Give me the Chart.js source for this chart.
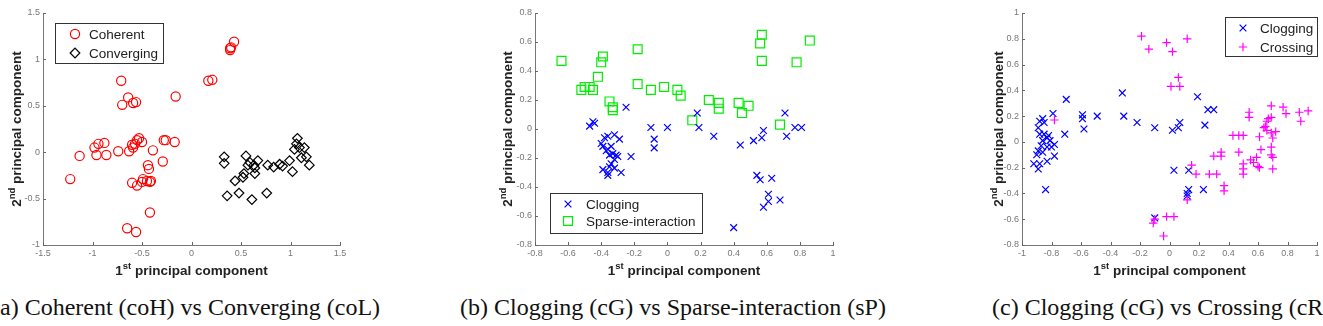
<!DOCTYPE html>
<html>
<head>
<meta charset="utf-8">
<script src="https://cdn.jsdelivr.net/npm/chart.js@4.4.1/dist/chart.umd.min.js"></script>
<style>
  body { margin: 0; background: #fff; width: 1323px; height: 326px; overflow: hidden; position: relative; }
  canvas { position: absolute; top: 0; }
  .cap { position: absolute; top: 294px; font-family: 'Liberation Serif', 'Times New Roman', serif; font-size: 24px; line-height: 27px; color: #111; white-space: nowrap; }
</style>
</head>
<body>
<canvas id="c1" width="360" height="290" style="left:0"></canvas>
<canvas id="c2" width="380" height="290" style="left:480px"></canvas>
<canvas id="c3" width="353" height="290" style="left:970px"></canvas>
<div class="cap" style="left:-8px">(a) Coherent (coH) vs Converging (coL)</div>
<div class="cap" style="left:460px">(b) Clogging (cG) vs Sparse-interaction (sP)</div>
<div class="cap" style="left:992px">(c) Clogging (cG) vs Crossing (cR)</div>
<script>
// --- data: [1st PC, 2nd PC] ---
const coherentPts = [
  [-1.225, -0.29], [-1.13, -0.04], [-0.98, 0.05], [-0.94, 0.09], [-0.96, -0.03], [-0.88, 0.10],
  [-0.86, -0.03], [-0.74, 0.01], [-0.71, 0.77], [-0.70, 0.51], [-0.64, 0.59], [-0.63, 0.01],
  [-0.65, -0.82], [-0.56, -0.86], [-0.59, 0.53], [-0.56, 0.54], [-0.60, 0.08], [-0.59, 0.05],
  [-0.55, 0.13], [-0.53, 0.15], [-0.50, 0.11], [-0.57, 0.09], [-0.60, -0.33], [-0.55, -0.36],
  [-0.50, -0.32], [-0.45, -0.31], [-0.42, -0.32], [-0.49, -0.29], [-0.41, -0.31], [-0.44, -0.14],
  [-0.43, -0.18], [-0.42, -0.65], [-0.39, 0.02], [-0.29, -0.10], [-0.28, 0.13], [-0.26, 0.13],
  [-0.17, 0.11], [-0.16, 0.60], [0.17, 0.77], [0.21, 0.78], [0.39, 1.12], [0.40, 1.13],
  [0.43, 1.19], [0.39, 1.10]
];
const convergingPts = [
  [0.33, -0.05], [0.33, -0.12], [0.36, -0.47], [0.44, -0.31], [0.48, -0.44], [0.52, -0.27],
  [0.53, -0.23], [0.55, -0.04], [0.57, -0.14], [0.59, -0.11], [0.61, -0.51], [0.63, -0.14],
  [0.64, -0.23], [0.64, -0.17], [0.67, -0.09], [0.76, -0.44], [0.77, -0.14], [0.83, -0.16],
  [0.89, -0.13], [0.92, -0.15], [0.99, -0.09], [1.02, -0.21], [1.04, 0.03], [1.07, 0.15],
  [1.09, 0.05], [1.11, -0.06], [1.14, 0.05], [1.16, -0.05], [1.19, -0.14], [1.06, 0.09]
];
const cloggingPtsB = [
  [-0.47, 0.02], [-0.45, 0.05], [-0.44, 0.04], [-0.25, 0.15], [-0.10, 0.01], [-0.08, -0.07],
  [-0.08, -0.13], [0.00, 0.01], [-0.22, -0.19], [-0.40, -0.10], [-0.38, -0.06], [-0.36, -0.05],
  [-0.39, -0.12], [-0.36, -0.14], [-0.35, -0.18], [-0.34, -0.12], [-0.32, -0.04], [-0.29, -0.07],
  [-0.33, -0.17], [-0.31, -0.18], [-0.30, -0.19], [-0.32, -0.21], [-0.34, -0.24], [-0.35, -0.26],
  [-0.39, -0.28], [-0.36, -0.30], [-0.36, -0.32], [-0.28, -0.30], [-0.32, -0.27], [-0.37, -0.15],
  [0.18, 0.11], [0.19, 0.01], [0.28, -0.05], [0.44, -0.11], [0.52, -0.08], [0.57, -0.06],
  [0.58, -0.01], [0.54, -0.32], [0.56, -0.35], [0.63, -0.34], [0.61, -0.45], [0.61, -0.50],
  [0.58, -0.54], [0.68, -0.49], [0.40, -0.68], [0.71, 0.11], [0.72, -0.05], [0.77, 0.01],
  [0.81, 0.01]
];
const sparsePts = [
  [-0.64, 0.47], [-0.52, 0.27], [-0.50, 0.29], [-0.47, 0.29], [-0.45, 0.27], [-0.42, 0.36],
  [-0.40, 0.46], [-0.39, 0.50], [-0.35, 0.19], [-0.33, 0.15], [-0.33, 0.13], [-0.18, 0.55],
  [-0.18, 0.31], [-0.10, 0.27], [-0.02, 0.29], [0.06, 0.27], [0.08, 0.23], [0.15, 0.06],
  [0.25, 0.20], [0.31, 0.18], [0.31, 0.14], [0.43, 0.18], [0.45, 0.11], [0.49, 0.16],
  [0.56, 0.59], [0.57, 0.65], [0.57, 0.47], [0.68, 0.03], [0.78, 0.46], [0.86, 0.61]
];
const cloggingPtsC = [
  [-0.92, -0.17], [-0.89, -0.21], [-0.88, -0.17], [-0.90, -0.10], [-0.89, -0.07], [-0.87, -0.03],
  [-0.86, 0.01], [-0.88, 0.06], [-0.89, 0.11], [-0.88, 0.16], [-0.86, 0.18], [-0.85, 0.15],
  [-0.85, 0.06], [-0.83, 0.03], [-0.82, 0.05], [-0.81, 0.01], [-0.80, -0.04], [-0.78, -0.02],
  [-0.78, -0.11], [-0.83, -0.15], [-0.84, -0.37], [-0.79, 0.22], [-0.83, -0.04], [-0.86, -0.08],
  [-0.70, 0.33], [-0.71, 0.06], [-0.59, 0.21], [-0.59, 0.18], [-0.58, 0.10], [-0.49, 0.20],
  [-0.32, 0.38], [-0.31, 0.20], [-0.22, 0.15], [-0.10, 0.11], [0.02, 0.09], [0.06, 0.11],
  [0.07, 0.15], [0.19, 0.35], [0.24, 0.13], [0.26, 0.25], [0.30, 0.25], [0.03, -0.22],
  [0.13, -0.22], [0.13, -0.37], [0.12, -0.40], [0.12, -0.42], [0.23, -0.37], [-0.10, -0.59]
];
const crossingPts = [
  [-0.19, 0.82], [-0.14, 0.72], [-0.02, 0.77], [0.02, 0.70], [0.12, 0.80], [0.06, 0.50],
  [0.01, 0.43], [0.07, 0.43], [-0.78, 0.17], [-0.11, -0.63], [-0.10, -0.60], [-0.04, -0.73],
  [-0.02, -0.58], [0.03, -0.58], [0.12, -0.45], [0.15, -0.18], [0.18, -0.25], [0.27, -0.25],
  [0.32, -0.25], [0.30, -0.11], [0.35, -0.08], [0.35, -0.11], [0.37, -0.34], [0.37, -0.38],
  [0.43, 0.05], [0.47, 0.05], [0.50, 0.05], [0.47, -0.08], [0.50, -0.17], [0.50, -0.21],
  [0.50, -0.25], [0.54, 0.23], [0.54, 0.19], [0.55, -0.14], [0.57, -0.16], [0.59, -0.12],
  [0.60, -0.19], [0.61, -0.20], [0.61, 0.04], [0.62, -0.06], [0.65, 0.12], [0.66, 0.16],
  [0.67, 0.18], [0.69, 0.19], [0.69, 0.28], [0.69, 0.07], [0.70, 0.03], [0.69, -0.04],
  [0.69, -0.10], [0.70, -0.12], [0.70, -0.21], [0.72, 0.08], [0.77, 0.27], [0.79, 0.22],
  [0.88, 0.23], [0.89, 0.16], [0.94, 0.24], [0.66, 0.09], [0.64, 0.11]
];

const FONT = '"Liberation Sans", Arial, sans-serif';
const toXY = pts => pts.map(p => ({ x: p[0], y: p[1] }));
const fmt = v => String(Math.round(v * 10) / 10);

function drawSup(ctx, a, s, b, cx, base) {
  const big = 'bold 13.5px ' + FONT, small = 'bold 9.5px ' + FONT;
  ctx.font = big;
  const wa = ctx.measureText(a).width, wb = ctx.measureText(b).width;
  ctx.font = small;
  const ws = ctx.measureText(s).width;
  const x0 = cx - (wa + ws + wb) / 2;
  ctx.textAlign = 'left';
  ctx.textBaseline = 'alphabetic';
  ctx.font = big; ctx.fillText(a, x0, base);
  ctx.font = small; ctx.fillText(s, x0 + wa, base - 6);
  ctx.font = big; ctx.fillText(b, x0 + wa + ws, base);
}

// inward tick marks + axis titles with superscripts
const axisDecor = {
  id: 'axisDecor',
  afterDraw(chart, args, opts) {
    const { ctx, chartArea: a } = chart;
    const x = chart.scales.x, y = chart.scales.y;
    ctx.save();
    ctx.strokeStyle = '#666';
    ctx.lineWidth = 1;
    ctx.beginPath();
    x.ticks.forEach(t => {
      const px = Math.round(x.getPixelForValue(t.value)) + 0.5;
      ctx.moveTo(px, a.bottom); ctx.lineTo(px, a.bottom - 3);
    });
    y.ticks.forEach(t => {
      const py = Math.round(y.getPixelForValue(t.value)) + 0.5;
      ctx.moveTo(a.left, py); ctx.lineTo(a.left + 3, py);
    });
    ctx.stroke();
    ctx.fillStyle = '#222';
    drawSup(ctx, '1', 'st', ' principal component', (a.left + a.right) / 2, a.bottom + 30);
    ctx.translate(a.left - opts.yTitleGap, (a.top + a.bottom) / 2);
    ctx.rotate(-Math.PI / 2);
    drawSup(ctx, '2', 'nd', ' principal component', 0, 0);
    ctx.restore();
  }
};

// boxed legend inside the plot area
const boxLegend = {
  id: 'boxLegend',
  afterDraw(chart, args, o) {
    const ctx = chart.ctx;
    ctx.save();
    ctx.fillStyle = '#fff';
    ctx.fillRect(o.x, o.y, o.w, o.h);
    ctx.strokeStyle = '#333';
    ctx.lineWidth = 1;
    ctx.strokeRect(o.x + 0.5, o.y + 0.5, o.w, o.h);
    chart.data.datasets.forEach((ds, i) => {
      const cy = o.y + o.rows[i];
      ctx.strokeStyle = ds.borderColor;
      ctx.fillStyle = 'rgba(0,0,0,0)';
      ctx.lineWidth = ds.borderWidth;
      Chart.helpers.drawPoint(ctx, { pointStyle: ds.pointStyle, radius: ds.pointRadius, borderWidth: ds.borderWidth, rotation: 0 }, o.markerX, cy);
      ctx.fillStyle = '#222';
      ctx.font = '13.5px ' + FONT;
      ctx.textAlign = 'left';
      ctx.textBaseline = 'middle';
      ctx.fillText(ds.label, o.textX, cy + 1);
    });
    ctx.restore();
  }
};

function series(label, pts, color, style, radius, order) {
  return {
    label, data: toXY(pts), borderColor: color, backgroundColor: 'rgba(0,0,0,0)',
    pointStyle: style, pointRadius: radius, pointHoverRadius: radius, borderWidth: 1.2, order
  };
}

function axis(min, max, step, fit) {
  return {
    type: 'linear', min, max,
    grid: { display: false, drawTicks: false },
    border: { display: true, color: '#777', width: 1 },
    ticks: { stepSize: step, autoSkip: false, maxRotation: 0, color: '#777', padding: 3, font: { size: 9, family: FONT }, callback: fmt },
    afterFit: fit
  };
}

function makeChart(id, datasets, xr, yr, yWidth, padRight, yTitleGap, legend) {
  return new Chart(document.getElementById(id), {
    type: 'scatter',
    data: { datasets },
    options: {
      responsive: false, animation: false, devicePixelRatio: 1,
      layout: { padding: { top: 13, right: padRight, left: 0, bottom: 0 } },
      scales: {
        x: axis(xr[0], xr[1], xr[2], s => { s.height = 45; }),
        y: axis(yr[0], yr[1], yr[2], s => { s.width = yWidth; })
      },
      plugins: {
        legend: { display: false }, tooltip: { enabled: false },
        axisDecor: { yTitleGap }, boxLegend: legend
      }
    },
    plugins: [axisDecor, boxLegend]
  });
}

makeChart('c1', [
  series('Coherent', coherentPts, '#ff0000', 'circle', 4.6, 0),
  series('Converging', convergingPts, '#000000', 'rectRot', 4.8, 1)
], [-1.5, 1.5, 0.5], [-1, 1.5, 0.5], 43, 20, 22,
  { x: 55, y: 23, w: 108, h: 40, rows: [11, 30], markerX: 75, textX: 89 });

makeChart('c2', [
  series('Clogging', cloggingPtsB, '#0000ff', 'crossRot', 4.8, 0),
  series('Sparse-interaction', sparsePts, '#00ee00', 'rect', 6.3, 1)
], [-0.8, 1, 0.2], [-0.8, 0.8, 0.2], 55, 27, 23,
  { x: 70, y: 193, w: 152, h: 40, rows: [11, 28], markerX: 88, textX: 106 });

makeChart('c3', [
  series('Clogging', cloggingPtsC, '#0000ff', 'crossRot', 4.8, 1),
  series('Crossing', crossingPts, '#ff00ff', 'cross', 4.2, 0)
], [-1, 1, 0.2], [-0.8, 1, 0.2], 52, 3, 19,
  { x: 255, y: 17, w: 92, h: 39, rows: [11, 30], markerX: 273, textX: 290 });
</script>
</body>
</html>
